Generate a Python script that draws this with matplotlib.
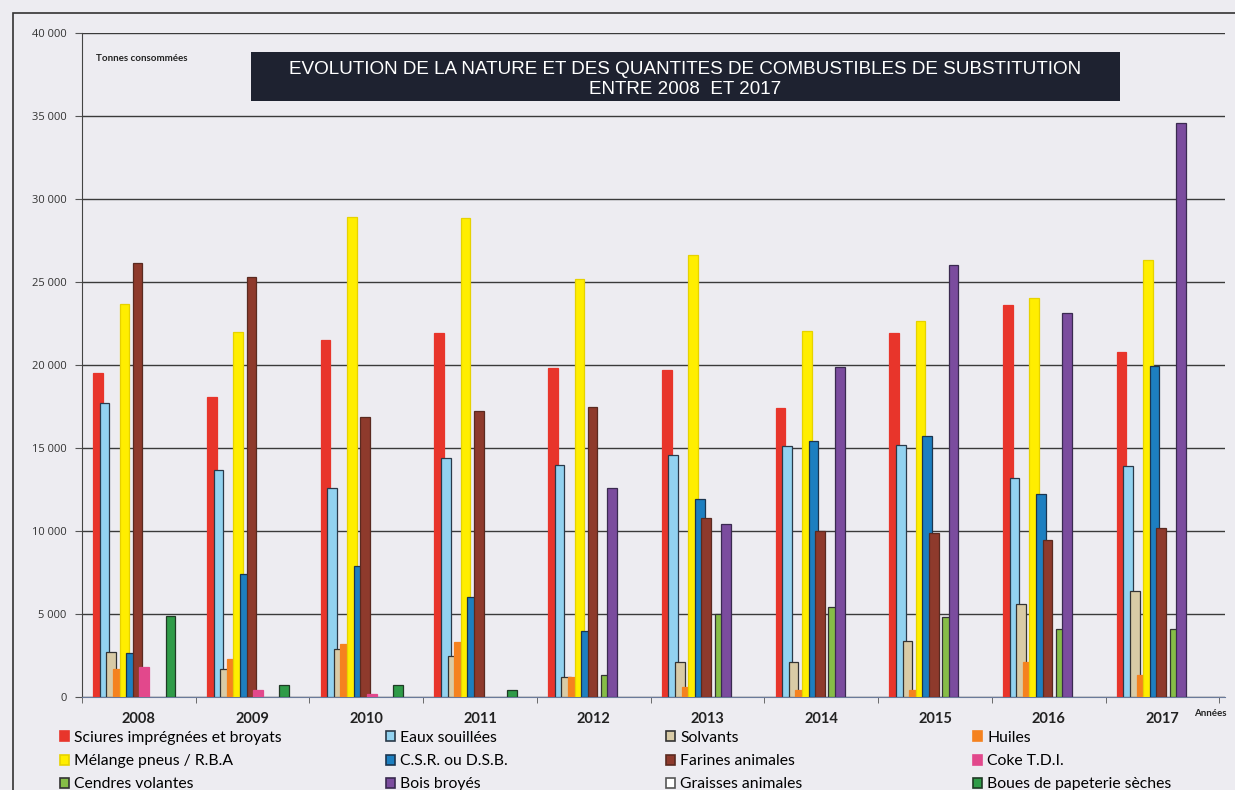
import matplotlib.pyplot as plt
from matplotlib.patches import Patch, Rectangle
import numpy as np

years = ["2008", "2009", "2010", "2011", "2012", "2013", "2014", "2015", "2016", "2017"]

series_names = [
    "Sciures imprégnées et broyats", "Eaux souillées", "Solvants", "Huiles",
    "Mélange pneus / R.B.A", "C.S.R. ou D.S.B.", "Farines animales", "Coke T.D.I.",
    "Cendres volantes", "Bois broyés", "Graisses animales", "Boues de papeterie sèches",
]

sciures = [19500, 18100, 21500, 21900, 19800, 19700, 17400, 21900, 23600, 20800]
eaux = [17700, 13700, 12600, 14400, 14000, 14600, 15100, 15200, 13200, 13900]
solvants = [2700, 1700, 2900, 2500, 1200, 2100, 2100, 3400, 5600, 6400]
huiles = [1700, 2300, 3200, 3300, 1200, 600, 400, 400, 2100, 1300]
melange = [23700, 22000, 28900, 28850, 25200, 26600, 22050, 22650, 24050, 26300]
csr = [2650, 7400, 7900, 6000, 4000, 11900, 15400, 15700, 12200, 19950]
farines = [26150, 25300, 16850, 17250, 17500, 10800, 10000, 9900, 9450, 10200]
coke = [1800, 400, 200, 0, 0, 0, 0, 0, 0, 0]
cendres = [0, 0, 0, 0, 1300, 5000, 5400, 4800, 4100, 4100]
bois = [0, 0, 0, 0, 12600, 10450, 19850, 26000, 23150, 34550]
graisses = [0, 0, 0, 0, 0, 0, 0, 0, 0, 0]
boues = [4850, 750, 700, 450, 0, 0, 0, 0, 0, 0]

values = [sciures, eaux, solvants, huiles, melange, csr, farines, coke,
          cendres, bois, graisses, boues]

colors = ["#e8352b", "#92d2f0", "#d9cba6", "#f5821f", "#ffee00", "#1d7fc0",
          "#8e3a2c", "#e2488c", "#86bd47", "#7b4c9e", "#ffffff", "#2f9b48"]
edges = ["#e8352b", "#2a3a4a", "#333333", "#f5821f", "#e6d200", "#1b3550",
         "#5a2a20", "#e2488c", "#333333", "#3a2a50", "#555555", "#1f3a25"]

bg = "#edecf1"
fig = plt.figure(figsize=(12.35, 7.9), dpi=100, facecolor=bg)
ax = fig.add_axes([82 / 1235, 1 - 697 / 790, 1143 / 1235, 664 / 790], facecolor=bg)

x = np.arange(len(years))
slot = 0.058
for i, (vals, c, ec) in enumerate(zip(values, colors, edges)):
    v = np.array(vals, dtype=float)
    m = v > 0
    ax.bar(x[m] + (i - 5.5) * slot - 0.04, v[m], width=0.085,
           color=c, edgecolor=ec, linewidth=0.9, zorder=3 + i * 0.01)

ax.set_ylim(0, 40000)
ax.set_xlim(-0.45, 9.55)
ax.set_yticks(range(0, 40001, 5000))
ax.set_yticklabels(["0" if t == 0 else f"{t:,}".replace(",", " ") for t in range(0, 40001, 5000)],
                   fontsize=8, color="#333333", family="Open Sans")
ax.yaxis.grid(True, color="#3a3a3a", linewidth=1.0, zorder=1)
ax.tick_params(axis="y", length=5, color="#555555", pad=6)

ax.set_xticks(x)
ax.set_xticklabels(years, fontsize=10.5, fontweight="bold", color="#222222", family="Lato")
ax.tick_params(axis="x", length=0, pad=11)
ax.set_xticks(np.arange(-0.5, 10, 1), minor=True)
ax.tick_params(axis="x", which="minor", length=4, color="#555555")

for s in ["top", "right"]:
    ax.spines[s].set_visible(False)
ax.spines["left"].set_color("#444444")
ax.spines["bottom"].set_color("#6a7a9a")

ax.text(0.012, 0.962, "Tonnes consommées", transform=ax.transAxes, fontsize=7,
        fontweight="bold", color="#222222", va="center", family="Lato")
fig.text(1210 / 1235, 1 - 713 / 790, "Années", fontsize=7, fontweight="bold",
         color="#222222", ha="center", va="center", family="Lato")

# title box
fig.patches.append(Rectangle((251 / 1235, 1 - 101 / 790), 869 / 1235, 49 / 790,
                             transform=fig.transFigure, facecolor="#1e2230",
                             edgecolor="none", zorder=5))
fig.text(685 / 1235, 1 - 69 / 790, "EVOLUTION DE LA NATURE ET DES QUANTITES DE COMBUSTIBLES DE SUBSTITUTION",
         fontsize=13.6, color="white", ha="center", va="center", zorder=6,
         family=["Liberation Sans Narrow", "Liberation Sans"])
fig.text(685 / 1235, 1 - 90 / 790, "ENTRE 2008  ET 2017", fontsize=13.6, color="white",
         ha="center", va="center", zorder=6,
         family=["Liberation Sans Narrow", "Liberation Sans"])

# outer frame
fig.patches.append(Rectangle((13 / 1235, -0.05), 1.1, 1 - 13 / 790 + 0.05,
                             transform=fig.transFigure, facecolor="none",
                             edgecolor="#333333", linewidth=1.2, zorder=0))

# legend, row-wise in four columns
col_x = [60, 386, 666, 973]
for c in range(4):
    idx = [c, c + 4, c + 8]
    handles = [Patch(facecolor=colors[i], edgecolor=edges[i], linewidth=1.2) for i in idx]
    fig.legend(handles, [series_names[i] for i in idx], loc="upper left",
               bbox_to_anchor=(col_x[c] / 1235, 1 - 731 / 790), frameon=False,
               handlelength=0.6, handleheight=0.6, handletextpad=0.3,
               labelspacing=0.58, borderpad=0, borderaxespad=0,
               prop={"family": "Lato", "size": 11.3})

fig.savefig("out.png", dpi=100, facecolor=bg)
